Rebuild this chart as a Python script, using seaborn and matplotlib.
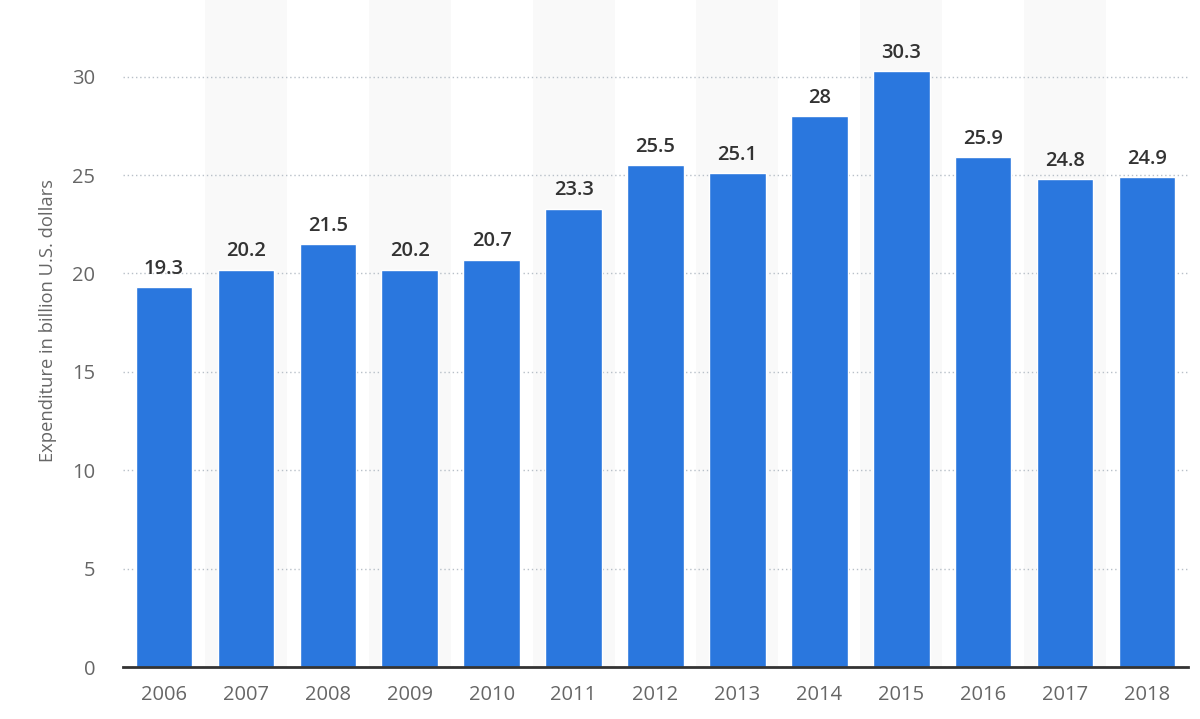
import matplotlib
matplotlib.use("Agg")
import matplotlib.pyplot as plt
import seaborn as sns
import pandas as pd

years = ["2006", "2007", "2008", "2009", "2010", "2011", "2012",
         "2013", "2014", "2015", "2016", "2017", "2018"]
values = [19.3, 20.2, 21.5, 20.2, 20.7, 23.3, 25.5, 25.1, 28, 30.3, 25.9, 24.8, 24.9]
y_ticks = [0, 5, 10, 15, 20, 25, 30]
y_label = "Expenditure in billion U.S. dollars"

sns.set_theme(style="white")
plt.rcParams["font.family"] = ["Open Sans", "DejaVu Sans"]

df = pd.DataFrame({"year": years, "value": values})

fig = plt.figure(figsize=(12, 7.19), dpi=100)
ax = fig.add_axes([0.1025, 0.0723, 0.8875, 0.9277])

# alternating background bands
for i in range(len(years)):
    if i % 2 == 1:
        ax.axvspan(i - 0.5, i + 0.5, color="#f9f9f9", zorder=0, lw=0)

sns.barplot(data=df, x="year", y="value", color="#2a77de", saturation=1,
            width=0.69, ax=ax, zorder=3)

for c in ax.containers:
    ax.bar_label(c, labels=[f"{v:g}" for v in values], padding=6,
                 fontsize=14.5, fontweight="semibold", color="#333333")

ax.set_xlim(-0.5, len(years) - 0.5)
ax.set_ylim(0, 33.9)
ax.set_yticks(y_ticks)
ax.yaxis.grid(True, linestyle=(0, (1, 2)), color="#b8c0c8", linewidth=1, zorder=1)
ax.set_axisbelow(True)
ax.xaxis.grid(False)

for s in ["top", "right", "left"]:
    ax.spines[s].set_visible(False)
ax.spines["bottom"].set_color("#333333")
ax.spines["bottom"].set_linewidth(2)
ax.spines["bottom"].set_zorder(5)

ax.tick_params(axis="y", length=0, pad=20, labelsize=14.5, labelcolor="#666666")
ax.tick_params(axis="x", length=0, pad=13, labelsize=14.5, labelcolor="#666666")
ax.set_xlabel("")
ax.set_ylabel(y_label, fontsize=13.2, color="#666666")
ax.yaxis.set_label_coords(-0.062, 0.519)

fig.savefig("out.png", dpi=100)
